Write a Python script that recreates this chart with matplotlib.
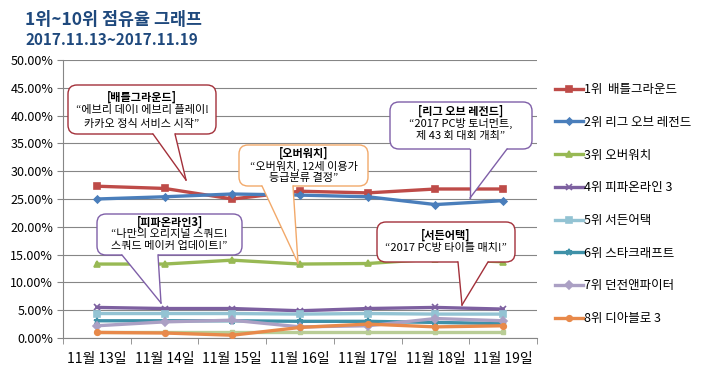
import matplotlib
matplotlib.use('Agg')
import matplotlib.pyplot as plt
from matplotlib.patches import FancyBboxPatch, Polygon
from matplotlib.lines import Line2D
from matplotlib.transforms import IdentityTransform

plt.rcParams['font.family'] = ['Noto Sans CJK KR', 'DejaVu Sans']

# data (점유율 %)
dates = ['11월 13일', '11월 14일', '11월 15일', '11월 16일', '11월 17일', '11월 18일', '11월 19일']
names = ['1위  배틀그라운드', '2위 리그 오브 레전드', '3위 오버워치', '4위 피파온라인 3',
         '5위 서든어택', '6위 스타크래프트', '7위 던전앤파이터', '8위 디아블로 3']
battleground = [27.3, 26.9, 25.0, 26.4, 26.1, 26.8, 26.8]
lol = [25.0, 25.4, 25.9, 25.7, 25.4, 24.0, 24.7]
overwatch = [13.3, 13.3, 14.0, 13.3, 13.4, 14.2, 13.7]
fifa3 = [5.5, 5.3, 5.3, 4.9, 5.3, 5.5, 5.2]
suddenattack = [4.4, 4.4, 4.4, 4.3, 4.4, 4.3, 4.3]
starcraft = [3.1, 3.1, 3.1, 3.0, 3.0, 2.8, 2.6]
dnf = [2.2, 2.9, 3.2, 2.0, 2.2, 3.5, 3.1]
diablo3 = [1.0, 0.9, 0.5, 1.9, 2.5, 2.0, 2.2]
rank9 = [1.1, 1.1, 1.1, 1.1, 1.1, 1.1, 1.1]

W, H = 716, 376
fig = plt.figure(figsize=(W / 100, H / 100), dpi=100)
ax = fig.add_axes([63 / W, 1 - 338 / H, (537 - 63) / W, (338 - 60) / H])

x = list(range(len(dates)))
lw = 2.4
ax.plot(x, rank9, color='#B9CD96', lw=lw, marker='s', ms=3, label='_nolegend_', zorder=3)
series = [
    (battleground, '#BE4B48', 's', 4),
    (lol, '#4A7EBB', 'D', 3.5),
    (overwatch, '#98B954', '^', 4.5),
    (fifa3, '#7D60A0', 'x', 5),
    (suddenattack, '#93C3D3', 's', 4),
    (starcraft, '#3F91A8', '*', 5),
    (dnf, '#ABA0C4', 'D', 4.5),
    (diablo3, '#E8894A', 'o', 4),
]
handles = []
for (vals, col, mk, ms), nm in zip(series, names):
    h, = ax.plot(x, vals, color=col, lw=lw, marker=mk, ms=ms, mew=1.2, label=nm, zorder=4)
    handles.append(h)

ax.set_xlim(-0.5, 6.5)
ax.set_ylim(0, 50)
ax.set_yticks(range(0, 51, 5))
ax.set_yticklabels(['%.2f%%' % v for v in range(0, 51, 5)], fontsize=9)
ax.set_xticks(x)
ax.set_xticklabels(dates, fontsize=10)
ax.set_xticks([i - 0.5 for i in range(8)], minor=True)
ax.tick_params(axis='x', which='major', length=0, pad=10)
ax.tick_params(axis='x', which='minor', length=4, color='#868686')
ax.tick_params(axis='y', length=4, color='#868686', pad=3)
ax.grid(axis='y', color='#868686', lw=0.8)
ax.set_axisbelow(True)
for s in ['top', 'right']:
    ax.spines[s].set_visible(False)
for s in ['left', 'bottom']:
    ax.spines[s].set_color('#868686')

fig.text(25 / W, 1 - 20 / H, '1위~10위 점유율 그래프', fontsize=12.5, fontweight='bold',
         color='#1F497D', va='center')
fig.text(25 / W, 1 - 40 / H, '2017.11.13~2017.11.19', fontsize=11, fontweight='bold',
         color='#1F497D', va='center')

leg = fig.legend(handles=handles, loc='upper left', bbox_to_anchor=(550 / W, 1 - 78 / H),
                 frameon=False, fontsize=9, handlelength=2.2, handletextpad=0.1,
                 labelspacing=1.58, borderaxespad=0)

idt = IdentityTransform()


def callout(box, base, tip, lines, col):
    # box / base / tip in image pixels (y down)
    x0, y0, x1, y1 = box
    p = FancyBboxPatch((x0, H - y1), x1 - x0, y1 - y0, boxstyle='round,pad=0,rounding_size=9',
                       fc='white', ec=col, lw=1.0, transform=idt, zorder=10)
    fig.add_artist(p)
    (bx1, bx2, by) = base
    tx, ty = tip
    poly = Polygon([(bx1, H - by + 2), (bx1, H - by), (tx, H - ty), (bx2, H - by), (bx2, H - by + 2)],
                   closed=True, fc='white', ec='none', transform=idt, zorder=11)
    fig.add_artist(poly)
    for bx in (bx1, bx2):
        fig.add_artist(Line2D([bx, tx], [H - by, H - ty], color=col, lw=1.0, transform=idt, zorder=12))
    cx = (x0 + x1) / 2
    for i, (ly, txt) in enumerate(lines):
        fig.text(cx / W, 1 - ly / H, txt, ha='center', va='center', fontsize=8,
                 fontweight='bold' if i == 0 else 'normal', zorder=13)


callout((68, 85, 216, 134), (153, 175, 134), (186, 180),
        [(97, '[배틀그라운드]'), (110.5, '“에브리 데이! 에브리 플레이!'), (124, '카카오 정식 서비스 시작”')],
        '#A3303A')
callout((239, 145, 368, 186), (262, 293, 186), (298, 263),
        [(153, '[오버워치]'), (166, '“오버워치, 12세 이용가'), (178.5, '등급분류 결정”')],
        '#F2A96A')
callout((390, 102, 532, 149), (470, 507, 149), (470, 198),
        [(111.5, '[리그 오브 레전드]'), (123.5, '“2017 PC방 토너먼트,'), (136.5, '제 43 회 대회 개최”')],
        '#7F5FA8')
callout((97, 214, 242, 255), (122, 158, 255), (161, 303),
        [(222, '[피파온라인3]'), (234, '“나만의 오리지널 스쿼드!'), (246.5, '스쿼드 메이커 업데이트!”')],
        '#7F5FA8')
callout((377, 222, 515, 262), (458, 488, 262), (462, 305),
        [(235, '[서든어택]'), (248, '“2017 PC방 타이틀 매치!”')],
        '#A3303A')

fig.savefig('out.png', dpi=100)
